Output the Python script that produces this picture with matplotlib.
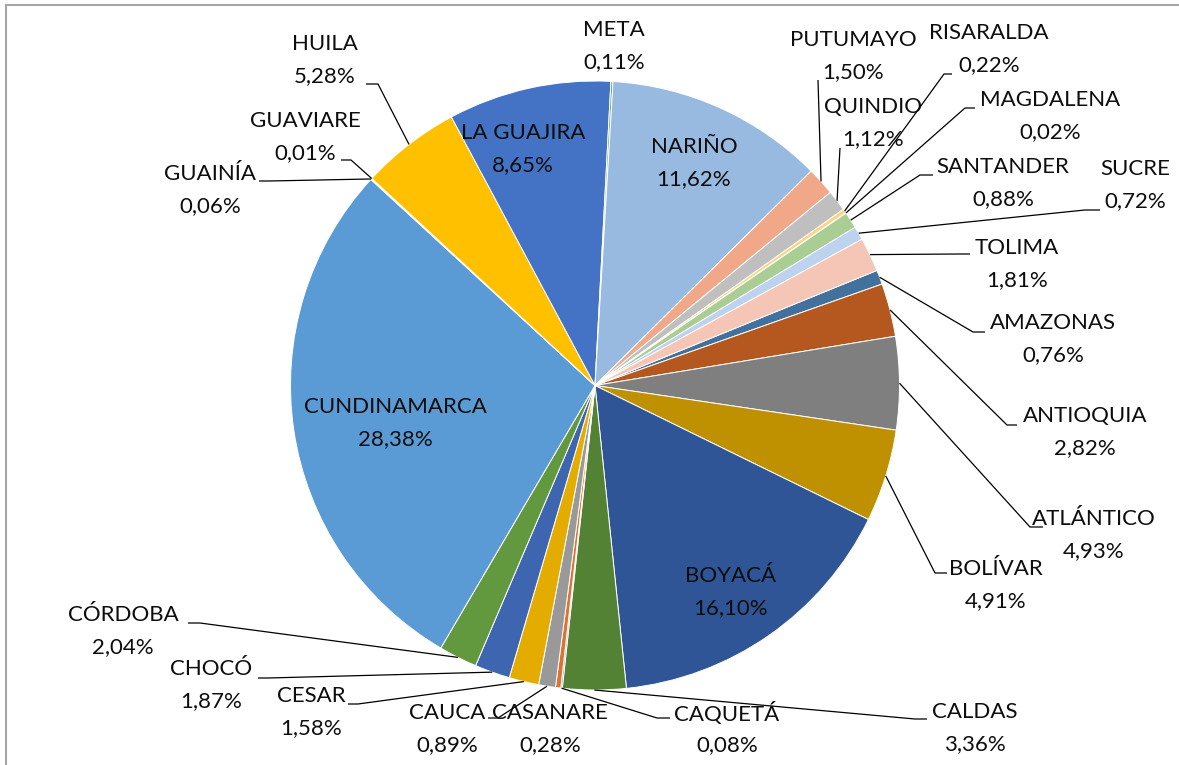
import numpy as np
import matplotlib.pyplot as plt
from matplotlib.lines import Line2D

W, H = 1179, 765

# Participación por departamento (%), en el orden en que van las porciones
departamentos = ["AMAZONAS", "ANTIOQUIA", "ATLÁNTICO", "BOLÍVAR", "BOYACÁ", "CALDAS",
                 "CAQUETÁ", "CASANARE", "CAUCA", "CESAR", "CHOCÓ", "CÓRDOBA",
                 "CUNDINAMARCA", "GUAINÍA", "GUAVIARE", "HUILA", "LA GUAJIRA", "META",
                 "NARIÑO", "PUTUMAYO", "QUINDIO", "RISARALDA", "MAGDALENA", "SANTANDER",
                 "SUCRE", "TOLIMA"]
porcentajes = [0.76, 2.82, 4.93, 4.91, 16.10, 3.36,
               0.08, 0.28, 0.89, 1.58, 1.87, 2.04,
               28.38, 0.06, 0.01, 5.28, 8.65, 0.11,
               11.62, 1.50, 1.12, 0.22, 0.02, 0.88,
               0.72, 1.81]
colores = ["#41719C", "#B4581F", "#7F7F7F", "#BF9000", "#2F5597", "#548235",
           "#5A8AC6", "#DB7431", "#999999", "#E5AC00", "#3D65B0", "#62993E",
           "#5B9BD5", "#ED7D31", "#A5A5A5", "#FFC000", "#4472C4", "#70AD47",
           "#98B9E0", "#F1A889", "#BFBFBF", "#FFD27F", "#8FAADC", "#A9CD92",
           "#BDD2EE", "#F5C6B6"]

# label placement (pixel coords of the name line, y measured from the top)
pos_etiqueta = {
    "META": (614, 30), "HUILA": (325, 44), "GUAVIARE": (305, 121), "GUAINÍA": (210, 174),
    "LA GUAJIRA": (523, 133), "NARIÑO": (694, 147), "PUTUMAYO": (853, 40),
    "RISARALDA": (989, 33), "QUINDIO": (873, 107), "MAGDALENA": (1050, 100),
    "SANTANDER": (1003, 167), "SUCRE": (1135, 169), "TOLIMA": (1017, 248),
    "AMAZONAS": (1053, 323), "ANTIOQUIA": (1085, 416), "ATLÁNTICO": (1094, 519),
    "BOLÍVAR": (996, 569), "BOYACÁ": (731, 576), "CALDAS": (975, 712),
    "CAQUETÁ": (727, 713), "CASANARE": (550, 713), "CAUCA": (447, 713),
    "CESAR": (311, 696), "CHOCÓ": (211, 669), "CÓRDOBA": (123, 615),
    "CUNDINAMARCA": (395, 407),
}
# leader lines: point at the label, elbow
guias = {
    "HUILA": ((366, 84), (378, 84)), "GUAVIARE": ((341, 160), (351, 160)),
    "GUAINÍA": ((259, 181), (269, 181)), "PUTUMAYO": ((818, 80), (818, 80)),
    "QUINDIO": ((840, 148), (840, 148)), "RISARALDA": ((952, 74), (944, 74)),
    "MAGDALENA": ((975, 108), (965, 108)), "SANTANDER": ((933, 175), (920, 175)),
    "SUCRE": ((1100, 210), (1085, 210)), "TOLIMA": ((970, 254), (960, 254)),
    "AMAZONAS": ((985, 332), (973, 332)), "ANTIOQUIA": ((1017, 425), (1007, 425)),
    "ATLÁNTICO": ((1043, 527), (1030, 527)), "BOLÍVAR": ((947, 573), (935, 573)),
    "CALDAS": ((927, 719), (915, 719)), "CAQUETÁ": ((670, 718), (657, 718)),
    "CAUCA": ((488, 718), (498, 718)), "CESAR": ((348, 704), (358, 704)),
    "CHOCÓ": ((258, 678), (268, 678)), "CÓRDOBA": ((188, 623), (200, 623)),
}

cx, cy, r = 595, H - 385.5, 304.5
fuente = "Lato"
fs = 16

fig = plt.figure(figsize=(W / 100, H / 100), dpi=100)
ax = fig.add_axes([0, 0, 1, 1])
wedges, _ = ax.pie(porcentajes, colors=colores, startangle=22.2, counterclock=False,
                   center=(cx, cy), radius=r,
                   wedgeprops=dict(edgecolor="white", linewidth=0.7))
ax.set_xlim(0, W)
ax.set_ylim(0, H)
ax.set_aspect("equal")
ax.axis("off")

for i, nombre in enumerate(departamentos):
    x, y = pos_etiqueta[nombre]
    pct = f"{porcentajes[i]:.2f}%".replace(".", ",")
    ax.text(x, H - y, nombre, ha="center", va="center", fontsize=fs, family=fuente, color="#0d0d0d")
    ax.text(x, H - y - 32, pct, ha="center", va="center", fontsize=fs, family=fuente, color="#0d0d0d")
    if nombre in guias:
        w = wedges[i]
        mid = np.deg2rad((w.theta1 + w.theta2) / 2)
        px, py = cx + r * np.cos(mid), cy + r * np.sin(mid)
        (ax_, ay_), (ex, ey) = guias[nombre]
        ax.plot([ax_, ex, px], [H - ay_, H - ey, py], color="black", lw=0.9,
                solid_capstyle="butt")

# chart-area border (only left and top edges are in view)
fig.add_artist(Line2D([5.5 / W, 5.5 / W], [0, 1 - 4.5 / H], transform=fig.transFigure,
                      color="#A6A6A6", lw=1.5))
fig.add_artist(Line2D([5.5 / W, 1], [1 - 4.5 / H, 1 - 4.5 / H], transform=fig.transFigure,
                      color="#A6A6A6", lw=1.5))

fig.savefig("out.png", dpi=100, facecolor="white")
